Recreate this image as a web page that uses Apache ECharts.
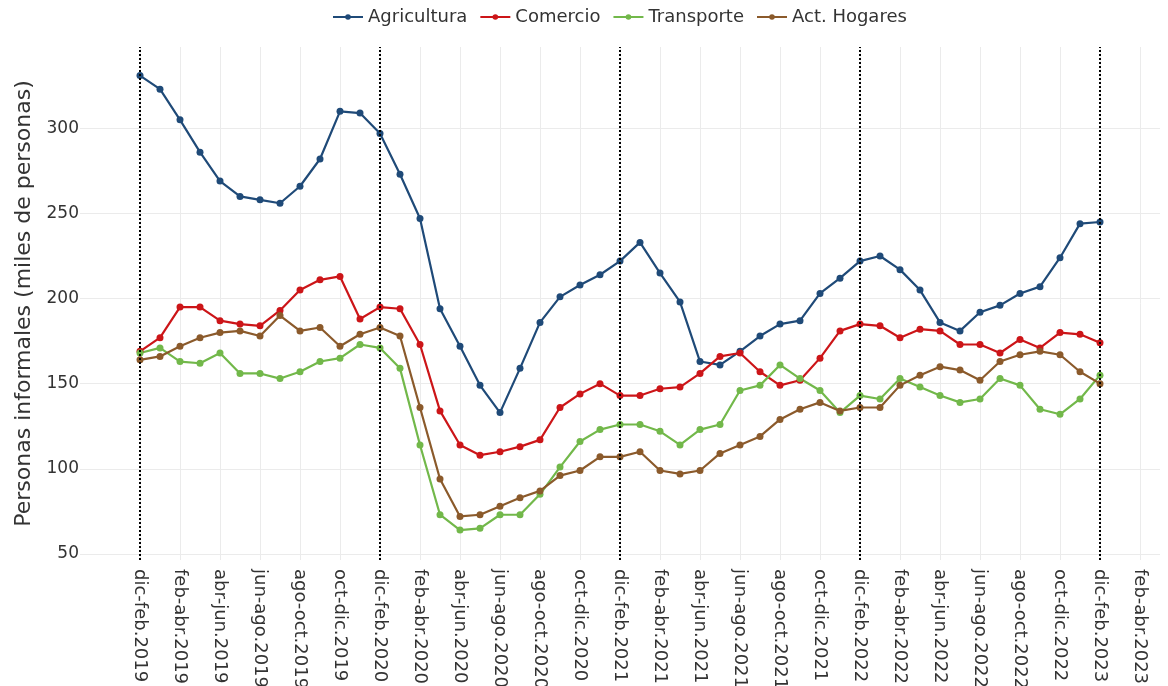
<!DOCTYPE html>
<html>
<head>
<meta charset="utf-8">
<script src="https://cdn.jsdelivr.net/npm/echarts@6/dist/echarts.min.js"></script>
<style>
  html, body { margin: 0; padding: 0; background: #fff; }
  #main { width: 1168px; height: 686px; }
</style>
</head>
<body>
<div id="main"></div>
<script>
// trimestres móviles
var categories = [
  'dic-feb.2019', 'ene-mar.2019', 'feb-abr.2019', 'mar-may.2019', 'abr-jun.2019', 'may-jul.2019',
  'jun-ago.2019', 'jul-sep.2019', 'ago-oct.2019', 'sep-nov.2019', 'oct-dic.2019', 'nov-ene.2020',
  'dic-feb.2020', 'ene-mar.2020', 'feb-abr.2020', 'mar-may.2020', 'abr-jun.2020', 'may-jul.2020',
  'jun-ago.2020', 'jul-sep.2020', 'ago-oct.2020', 'sep-nov.2020', 'oct-dic.2020', 'nov-ene.2021',
  'dic-feb.2021', 'ene-mar.2021', 'feb-abr.2021', 'mar-may.2021', 'abr-jun.2021', 'may-jul.2021',
  'jun-ago.2021', 'jul-sep.2021', 'ago-oct.2021', 'sep-nov.2021', 'oct-dic.2021', 'nov-ene.2022',
  'dic-feb.2022', 'ene-mar.2022', 'feb-abr.2022', 'mar-may.2022', 'abr-jun.2022', 'may-jul.2022',
  'jun-ago.2022', 'jul-sep.2022', 'ago-oct.2022', 'sep-nov.2022', 'oct-dic.2022', 'nov-ene.2023',
  'dic-feb.2023', 'ene-mar.2023', 'feb-abr.2023'
]

var agricultura = [331, 323, 305, 286, 269, 260, 258, 256, 266, 282, 310, 309, 297, 273, 247, 194, 172, 149, 133, 159,
  186, 201, 208, 214, 222, 233, 215, 198, 163, 161, 169, 178, 185, 187, 203, 212, 222, 225, 217, 205,
  186, 181, 192, 196, 203, 207, 224, 244, 245]
var comercio = [169, 177, 195, 195, 187, 185, 184, 193, 205, 211, 213, 188, 195, 194, 173, 134, 114, 108, 110, 113,
  117, 136, 144, 150, 143, 143, 147, 148, 156, 166, 168, 157, 149, 152, 165, 181, 185, 184, 177, 182,
  181, 173, 173, 168, 176, 171, 180, 179, 174]
var transporte = [168, 171, 163, 162, 168, 156, 156, 153, 157, 163, 165, 173, 171, 159, 114, 73, 64, 65, 73, 73,
  85, 101, 116, 123, 126, 126, 122, 114, 123, 126, 146, 149, 161, 153, 146, 133, 143, 141, 153, 148,
  143, 139, 141, 153, 149, 135, 132, 141, 155]
var hogares = [164, 166, 172, 177, 180, 181, 178, 190, 181, 183, 172, 179, 183, 178, 136, 94, 72, 73, 78, 83,
  87, 96, 99, 107, 107, 110, 99, 97, 99, 109, 114, 119, 129, 135, 139, 134, 136, 136, 149, 155,
  160, 158, 152, 163, 167, 169, 167, 157, 150]

// líneas punteadas en cada dic-feb
var cortes = ['dic-feb.2019', 'dic-feb.2020', 'dic-feb.2021', 'dic-feb.2022', 'dic-feb.2023']

// margen del eje x (categorías vacías a cada lado)
var PAD_LEFT = 3
var PAD_RIGHT = 1
var axisCats = []
for (var p = 0; p < PAD_LEFT; p++) axisCats.push('_l' + p)
categories.forEach(function (c) { axisCats.push(c) })
for (var q = 0; q < PAD_RIGHT; q++) axisCats.push('_r' + q)

function showTick(k) {
  var i = k - PAD_LEFT
  return i >= 0 && i < categories.length && i % 2 === 0
}
function toPairs(arr) {
  return arr.map(function (v, i) { return [i + PAD_LEFT, v] })
}

var FONT = 'DejaVu Sans'
var TEXT = '#333'
var myChart = echarts.init(document.getElementById('main'))

function lineSeries(name, arr, color) {
  return {
    name: name,
    type: 'line',
    data: toPairs(arr),
    symbol: 'circle',
    symbolSize: 7,
    lineStyle: { width: 2.2, color: color },
    itemStyle: { color: color },
    z: 3
  }
}

var series = [
  lineSeries('Agricultura', agricultura, '#1f4a78'),
  lineSeries('Comercio', comercio, '#cc1518'),
  lineSeries('Transporte', transporte, '#72b84a'),
  lineSeries('Act. Hogares', hogares, '#8b5a2b')
]
series[0].markLine = {
  silent: true,
  symbol: 'none',
  label: { show: false },
  lineStyle: { type: [2, 2], width: 2, color: '#000' },
  emphasis: { disabled: true },
  data: cortes.map(function (c) { return { xAxis: categories.indexOf(c) + PAD_LEFT } }),
  z: 5
}

myChart.setOption({
  animation: false,
  textStyle: { fontFamily: FONT },
  legend: {
    top: 3,
    left: 327,
    itemWidth: 30,
    itemHeight: 7,
    itemGap: 12,
    textStyle: { fontSize: 18, color: TEXT, fontFamily: FONT },
    data: ['Agricultura', 'Comercio', 'Transporte', 'Act. Hogares']
  },
  grid: {
    left: 80,
    right: 8,
    top: 47,
    bottom: 126,
    outerBoundsMode: 'none',
    containLabel: false
  },
  xAxis: {
    type: 'category',
    boundaryGap: false,
    data: axisCats,
    axisLine: { show: false },
    axisTick: { show: false },
    axisLabel: {
      rotate: -90,
      margin: 9,
      fontSize: 18,
      color: TEXT,
      fontFamily: FONT,
      interval: function (k) { return showTick(k) },
      formatter: function (v) { return v.charAt(0) === '_' ? '' : v }
    },
    splitLine: {
      show: true,
      interval: function (k) { return showTick(k) },
      lineStyle: { color: '#ebebeb', width: 1 }
    }
  },
  yAxis: {
    type: 'value',
    min: 46.4,
    max: 347.8,
    splitNumber: 6,
    name: 'Personas informales (miles de personas)',
    nameLocation: 'middle',
    nameGap: 38,
    nameTextStyle: { fontSize: 22, color: TEXT, fontFamily: FONT },
    axisLine: { show: false },
    axisTick: { show: false },
    axisLabel: {
      margin: 1,
      fontSize: 17,
      color: TEXT,
      fontFamily: FONT,
      showMinLabel: false,
      showMaxLabel: false
    },
    splitLine: {
      show: true,
      showMinLine: false,
      showMaxLine: false,
      lineStyle: { color: '#ebebeb', width: 1 }
    }
  },
  series: series
})
</script>
</body>
</html>
